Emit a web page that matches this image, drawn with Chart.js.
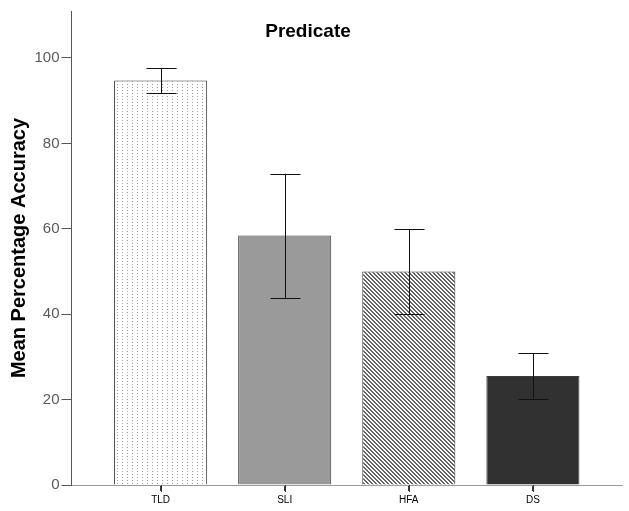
<!DOCTYPE html>
<html>
<head>
<meta charset="utf-8">
<script src="https://cdn.jsdelivr.net/npm/chart.js@4"></script>
<style>
  html, body { margin: 0; padding: 0; background: #fff; }
  #wrap { width: 629px; height: 511px; }
</style>
</head>
<body>
<div id="wrap"><canvas id="chart" width="629" height="511"></canvas></div>
<script>
const categories = ['TLD', 'SLI', 'HFA', 'DS'];
const means = [94.7, 58.4, 50.0, 25.5];
const errLow = [91.7, 43.8, 40.1, 20.2];
const errHigh = [97.7, 72.9, 59.9, 30.8];
const yTicks = [0, 20, 40, 60, 80, 100];

function makePattern(w, h, bg, fg, pixels) {
  const c = document.createElement('canvas');
  c.width = w;
  c.height = h;
  const g = c.getContext('2d');
  g.fillStyle = bg;
  g.fillRect(0, 0, w, h);
  g.fillStyle = fg;
  pixels.forEach(p => g.fillRect(p[0], p[1], 1, 1));
  return g.createPattern(c, 'repeat');
}

const ctx = document.getElementById('chart').getContext('2d');

// dotted vertical lines for TLD, diagonal hatch for HFA
const dots = makePattern(5, 3, '#ffffff', '#a0a0a0', [[2, 0]]);
const hatchPx = [];
for (let i = 0; i < 4; i++) {
  hatchPx.push([i, i]);
  hatchPx.push([(i + 1) % 4, i]);
}
const hatch = makePattern(4, 4, '#ffffff', '#626262', hatchPx);

const fills = [dots, '#9a9a9a', hatch, '#313131'];

// error bars, x tick marks, title
const extras = {
  id: 'extras',
  afterDraw(chart) {
    const { ctx, scales: { x, y } } = chart;
    ctx.save();
    ctx.strokeStyle = '#111';
    ctx.lineWidth = 1;
    means.forEach((m, i) => {
      const px = Math.round(x.getPixelForValue(i)) + 0.5;
      const top = y.getPixelForValue(errHigh[i]);
      const bot = y.getPixelForValue(errLow[i]);
      ctx.beginPath();
      ctx.moveTo(px, top);
      ctx.lineTo(px, bot);
      ctx.moveTo(px - 15, Math.round(top) + 0.5);
      ctx.lineTo(px + 15, Math.round(top) + 0.5);
      ctx.moveTo(px - 15, Math.round(bot) + 0.5);
      ctx.lineTo(px + 15, Math.round(bot) + 0.5);
      ctx.stroke();
      // tick mark under the axis
      ctx.fillStyle = '#333';
      ctx.fillRect(px - 0.5, Math.round(y.bottom), 1, 7);
    });
    ctx.fillStyle = '#000';
    ctx.font = 'bold 19px Arial, "Liberation Sans", sans-serif';
    ctx.textAlign = 'center';
    ctx.textBaseline = 'alphabetic';
    ctx.fillText('Predicate', 308, 37);
    ctx.restore();
  }
};

new Chart(ctx, {
  type: 'bar',
  data: {
    datasets: [{
      data: means.map((v, i) => ({ x: i, y: v })),
      backgroundColor: fills,
      borderColor: '#3a3a3a',
      borderWidth: 1,
      categoryPercentage: 0.75,
      barPercentage: 1,
    }],
  },
  options: {
    responsive: false,
    animation: false,
    layout: {
      padding: { left: 0, right: 7, top: 7, bottom: 0 },
    },
    plugins: {
      legend: { display: false },
      tooltip: { enabled: false },
    },
    scales: {
      x: {
        type: 'linear',
        min: -0.718,
        max: 3.718,
        offset: false,
        afterFit: (scale) => { scale.height = 26; },
        border: { color: '#9a9a9a', width: 1 },
        grid: {
          offset: false,
          drawOnChartArea: false,
          drawTicks: true,
          tickLength: 6,
          color: '#333',
        },
        ticks: {
          stepSize: 1,
          includeBounds: false,
          autoSkip: false,
          maxRotation: 0,
          padding: 3,
          color: '#000',
          font: { family: 'Arial, "Liberation Sans", sans-serif', size: 10 },
          callback: (value) => categories[value] ?? '',
        },
      },
      y: {
        min: 0,
        max: 111,
        afterFit: (scale) => { scale.width = 71.5; },
        afterBuildTicks: (scale) => {
          scale.ticks = yTicks.map(v => ({ value: v }));
        },
        border: { color: '#555', width: 1 },
        grid: {
          drawOnChartArea: false,
          drawTicks: true,
          tickLength: 10,
          color: '#555',
        },
        ticks: {
          padding: 2,
          color: '#5a5a5a',
          font: { family: 'Arial, "Liberation Sans", sans-serif', size: 15 },
        },
        title: {
          display: true,
          text: 'Mean Percentage Accuracy',
          color: '#000',
          padding: { top: 7, bottom: 0 },
          font: { family: 'Arial, "Liberation Sans", sans-serif', size: 20, weight: 'bold' },
        },
      },
    },
  },
  plugins: [extras],
});
</script>
</body>
</html>
